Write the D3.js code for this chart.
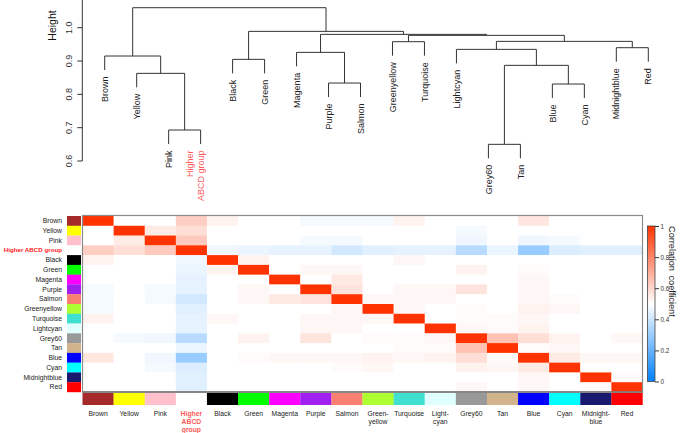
<!DOCTYPE html>
<html><head><meta charset="utf-8">
<script src="https://cdn.jsdelivr.net/npm/d3@7"></script>
<style>body{margin:0;background:#fff} svg{display:block} text{font-family:"Liberation Sans",Arial,Helvetica,sans-serif}</style>
</head><body><svg id="c" width="685" height="433"></svg>
<script>
// ---------- data ----------
const modules = ["Brown","Yellow","Pink","Higher ABCD group","Black","Green","Magenta","Purple","Salmon","Greenyellow","Turquoise","Lightcyan","Grey60","Tan","Blue","Cyan","Midnightblue","Red"];
const moduleColors = ["#A52A2A","#FFFF00","#FFC0CB","#FFFFFF","#000000","#00FF00","#FF00FF","#A020F0","#FA8072","#ADFF2F","#40E0D0","#E0FFFF","#999999","#D2B48C","#0000FF","#00FFFF","#191970","#FF0000"];
const bottomLabels = [["Brown"],["Yellow"],["Pink"],["Higher","ABCD","group"],["Black"],["Green"],["Magenta"],["Purple"],["Salmon"],["Green-","yellow"],["Turquoise"],["Light-","cyan"],["Grey60"],["Tan"],["Blue"],["Cyan"],["Midnight-","blue"],["Red"]];
const leafLabels = [["Brown"],["Yellow"],["Pink"],["Higher","ABCD group"],["Black"],["Green"],["Magenta"],["Purple"],["Salmon"],["Greenyellow"],["Turquoise"],["Lightcyan"],["Grey60"],["Tan"],["Blue"],["Cyan"],["Midnightblue"],["Red"]];
// hclust-style merges: negative = leaf -(index+1), positive = earlier merge (1-based); third = height
const merges = [
  [-13,-14,0.650],
  [-3,-4,0.693],
  [-15,-16,0.831],
  [-8,-9,0.834],
  [-2,2,0.863],
  [1,3,0.887],
  [-5,-6,0.905],
  [-1,5,0.915],
  [-7,4,0.926],
  [-12,6,0.935],
  [-17,-18,0.940],
  [-10,-11,0.958],
  [10,11,0.959],
  [12,13,0.977],
  [9,14,0.980],
  [7,15,0.989],
  [8,16,1.060]
];
const heightTicks = [0.6,0.7,0.8,0.9,1.0];
const colorbarTicks = [0,0.2,0.4,0.6,0.8,1];
const corr = [
 [1.00,0.50,0.50,0.62,0.53,0.50,0.50,0.48,0.48,0.48,0.53,0.50,0.50,0.50,0.56,0.50,0.50,0.50],
 [0.50,1.00,0.55,0.58,0.50,0.50,0.50,0.50,0.50,0.50,0.50,0.50,0.48,0.50,0.50,0.50,0.50,0.50],
 [0.50,0.55,1.00,0.63,0.50,0.50,0.50,0.48,0.48,0.50,0.50,0.50,0.47,0.50,0.47,0.48,0.50,0.50],
 [0.62,0.58,0.63,1.00,0.47,0.46,0.45,0.45,0.41,0.44,0.45,0.45,0.36,0.46,0.30,0.43,0.44,0.44],
 [0.53,0.50,0.50,0.47,1.00,0.53,0.50,0.50,0.50,0.50,0.52,0.50,0.50,0.50,0.50,0.50,0.50,0.50],
 [0.50,0.50,0.50,0.46,0.53,1.00,0.50,0.52,0.52,0.50,0.50,0.50,0.53,0.50,0.51,0.50,0.50,0.50],
 [0.50,0.50,0.50,0.45,0.50,0.50,1.00,0.50,0.555,0.50,0.50,0.50,0.50,0.50,0.52,0.50,0.50,0.50],
 [0.48,0.50,0.48,0.45,0.50,0.52,0.50,1.00,0.57,0.50,0.52,0.52,0.565,0.50,0.52,0.50,0.50,0.50],
 [0.48,0.50,0.48,0.41,0.50,0.52,0.555,0.57,1.00,0.52,0.52,0.52,0.50,0.50,0.52,0.51,0.50,0.50],
 [0.48,0.50,0.50,0.44,0.50,0.50,0.50,0.50,0.52,1.00,0.52,0.50,0.51,0.50,0.53,0.52,0.50,0.50],
 [0.53,0.50,0.50,0.45,0.52,0.50,0.50,0.52,0.52,0.52,1.00,0.50,0.51,0.51,0.52,0.50,0.50,0.50],
 [0.50,0.50,0.50,0.45,0.50,0.50,0.50,0.52,0.52,0.50,0.50,1.00,0.52,0.51,0.53,0.50,0.50,0.50],
 [0.50,0.48,0.47,0.36,0.50,0.53,0.50,0.565,0.50,0.51,0.51,0.52,1.00,0.65,0.58,0.53,0.50,0.52],
 [0.50,0.50,0.50,0.46,0.50,0.50,0.50,0.50,0.50,0.50,0.51,0.51,0.65,1.00,0.51,0.52,0.50,0.50],
 [0.56,0.50,0.47,0.30,0.50,0.51,0.52,0.52,0.52,0.53,0.52,0.53,0.58,0.51,1.00,0.55,0.52,0.52],
 [0.50,0.50,0.48,0.43,0.50,0.50,0.50,0.50,0.51,0.52,0.50,0.50,0.53,0.52,0.55,1.00,0.50,0.50],
 [0.50,0.50,0.50,0.44,0.50,0.50,0.50,0.50,0.50,0.50,0.50,0.50,0.50,0.50,0.52,0.50,1.00,0.51],
 [0.50,0.50,0.50,0.44,0.50,0.50,0.50,0.50,0.50,0.50,0.50,0.50,0.52,0.50,0.52,0.50,0.51,1.00]
];
const highlight = "Higher ABCD group";

// ---------- drawing ----------
const svg = d3.select("#c");
const n = modules.length;

// Dendrogram
const xLeaf = d3.scaleLinear().domain([0, n-1]).range([104.7, 648.3]);
const yH = d3.scaleLinear().domain([0.6, 1.0]).range([161, 27.7]);
const hang = 0.042;
const nodes = [];
function childInfo(c, parentH) {
  if (c < 0) { const i = -c - 1; return {x: xLeaf(i), bottom: parentH - hang, leaf: i}; }
  const m = nodes[c - 1]; return {x: m.x, bottom: m.h};
}
const dg = svg.append("g").attr("fill","none").attr("stroke","#333").attr("stroke-width",1);
const leafBottoms = [];
merges.forEach(([a, b, h]) => {
  const A = childInfo(a, h), B = childInfo(b, h);
  if (A.leaf !== undefined) leafBottoms[A.leaf] = A.bottom;
  if (B.leaf !== undefined) leafBottoms[B.leaf] = B.bottom;
  nodes.push({x: (A.x + B.x) / 2, h});
  const p = d3.path();
  p.moveTo(A.x, yH(A.bottom)); p.lineTo(A.x, yH(h)); p.lineTo(B.x, yH(h)); p.lineTo(B.x, yH(B.bottom));
  dg.append("path").attr("d", p.toString());
});
// leaf labels
leafLabels.forEach((lines, i) => {
  const isHi = modules[i] === highlight;
  const y0 = yH(leafBottoms[i]) + 6.5;
  lines.forEach((t, k) => {
    const dx = (k - (lines.length - 1)) * 11;
    svg.append("text")
      .attr("transform", `translate(${xLeaf(i) + dx},${y0}) rotate(-90)`)
      .attr("text-anchor","end").attr("dy","0.35em")
      .attr("font-size", 9).attr("fill", isHi ? "#FF5A5A" : "#222").text(t);
  });
});
// height axis
const ax = svg.append("g").attr("transform","translate(82.3,0)");
ax.append("line").attr("y1",0).attr("y2",yH(0.6)).attr("stroke","#333");
heightTicks.forEach(v => {
  ax.append("line").attr("x1",-5).attr("x2",0).attr("y1",yH(v)).attr("y2",yH(v)).attr("stroke","#333");
  ax.append("text").attr("transform",`translate(-10.5,${yH(v)}) rotate(-90)`)
    .attr("text-anchor","middle").attr("font-size",9).attr("fill","#333").text(v.toFixed(1));
});
svg.append("text").attr("transform","translate(56,25.5) rotate(-90)")
  .attr("text-anchor","middle").attr("font-size",10.5).attr("fill","#111").text("Height");

// Heatmap
const x = d3.scaleBand().domain(d3.range(n)).range([82.5, 642.5]);
const y = d3.scaleBand().domain(d3.range(n)).range([216, 392]);
const color = d3.scaleLinear().domain([0, 0.5, 1]).range(["#0080FF","#FFFFFF","#FF3300"]);
const cells = [];
corr.forEach((row, r) => row.forEach((v, c) => cells.push({r, c, v})));
svg.append("g").selectAll("rect").data(cells).join("rect")
  .attr("x", d => x(d.c)).attr("y", d => y(d.r))
  .attr("width", x.bandwidth() + 0.3).attr("height", y.bandwidth() + 0.3)
  .attr("fill", d => color(d.v));
svg.append("rect").attr("x",82.5).attr("y",215.5).attr("width",560).attr("height",176.5)
  .attr("fill","none").attr("stroke","#8a8a8a").attr("stroke-width",1.2);
svg.append("line").attr("x1",82).attr("x2",643).attr("y1",392).attr("y2",392).attr("stroke","#777").attr("stroke-width",1.6);

// left swatches
svg.append("g").selectAll("rect").data(moduleColors).join("rect")
  .attr("x",67).attr("width",14).attr("y",(d,i)=>y(i)).attr("height",y.bandwidth()+0.2)
  .attr("fill", d => d);
// bottom strip
svg.append("g").selectAll("rect").data(moduleColors).join("rect")
  .attr("y",393).attr("height",12).attr("x",(d,i)=>x(i)).attr("width",x.bandwidth()+0.2)
  .attr("fill", d => d);

// row labels
modules.forEach((m, i) => {
  const isHi = m === highlight;
  svg.append("text").attr("x", 62).attr("y", y(i) + y.bandwidth()/2).attr("dy","0.35em")
    .attr("text-anchor","end").attr("font-size", isHi ? 6.2 : 6.8)
    .attr("font-weight", isHi ? "bold" : "normal")
    .attr("fill", isHi ? "#FF2020" : "#222").text(m);
});
// bottom labels
bottomLabels.forEach((lines, i) => {
  const isHi = modules[i] === highlight;
  const t = svg.append("text").attr("text-anchor","middle").attr("font-size",6.8)
    .attr("font-weight", isHi ? "bold" : "normal")
    .attr("fill", isHi ? "#FF5A5A" : "#222");
  lines.forEach((s, k) => t.append("tspan").attr("x", x(i) + x.bandwidth()/2).attr("y", 416 + k*8.2).text(s));
});

// Colorbar
const defs = svg.append("defs");
const grad = defs.append("linearGradient").attr("id","cb").attr("x1",0).attr("x2",0).attr("y1",1).attr("y2",0);
d3.range(0, 1.0001, 0.05).forEach(t => grad.append("stop").attr("offset", t).attr("stop-color", color(t)));
const yC = d3.scaleLinear().domain([0,1]).range([381.5, 226]);
svg.append("rect").attr("x",647.5).attr("y",yC(1)).attr("width",7.5).attr("height",yC(0)-yC(1))
  .attr("fill","url(#cb)").attr("stroke","#444").attr("stroke-width",0.8);
const cax = svg.append("g").attr("transform","translate(655,0)")
  .call(d3.axisRight(yC).tickValues(colorbarTicks).tickSize(4).tickFormat(d3.format("~g")));
cax.select(".domain").remove();
cax.selectAll("line").attr("stroke","#333");
cax.selectAll("text").attr("font-size",6.3).attr("fill","#333").attr("x",5.5)
  .style("font-family",'"Liberation Sans",Arial,sans-serif');
svg.append("text").attr("transform","translate(669,226) rotate(90)")
  .attr("text-anchor","start").attr("font-size",9.2).attr("fill","#222")
  .attr("word-spacing", 2).text("Correlation coefficient");
</script></body></html>
